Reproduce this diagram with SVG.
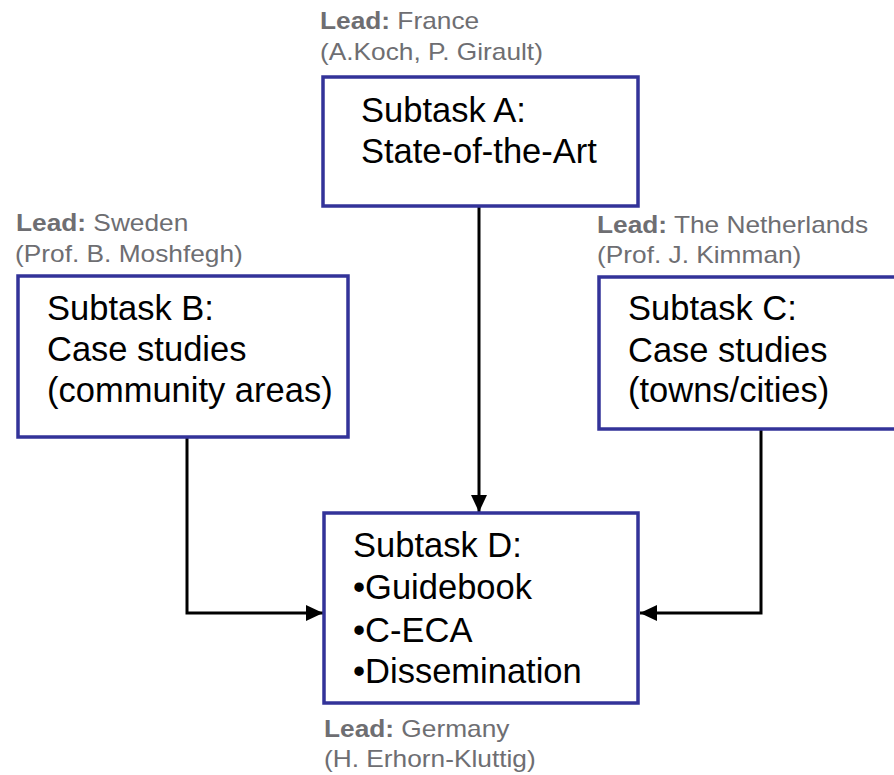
<svg xmlns="http://www.w3.org/2000/svg" width="894" height="775" viewBox="0 0 894 775">
  <style>
    .box { fill: #ffffff; stroke: #333399; stroke-width: 3.5; }
    .main { font-family: "Liberation Sans", Arial, sans-serif; font-size: 34.5px; fill: #000000; }
    .lead { font-family: "Liberation Sans", Arial, sans-serif; font-size: 24px; fill: #6e6e72; }
    .lead .b { font-weight: bold; }
    .conn { fill: none; stroke: #000000; stroke-width: 3; }
  </style>
  <defs>
    <marker id="arrow" markerUnits="userSpaceOnUse" markerWidth="18" markerHeight="18" viewBox="0 0 18 18" refX="17" refY="9" orient="auto">
      <path d="M0,1 L17,9 L0,17 Z" fill="#000000"/>
    </marker>
  </defs>
  <rect width="894" height="775" fill="#ffffff"/>

  <g id="connectors">
    <path class="conn" d="M479,207 L479,512" marker-end="url(#arrow)"/>
    <path class="conn" d="M187,437 L187,613 L323,613" marker-end="url(#arrow)"/>
    <path class="conn" d="M761,429 L761,613 L640,613" marker-end="url(#arrow)"/>
  </g>

  <g id="subtaskA">
    <rect class="box" x="323" y="77" width="315" height="129"/>
    <text class="main" x="361" y="122">Subtask A:</text>
    <text class="main" x="361" y="163">State-of-the-Art</text>
    <text class="lead" transform="translate(320,29) scale(1.095,1)"><tspan class="b">Lead:</tspan> France</text>
    <text class="lead" transform="translate(320,60) scale(1.095,1)">(A.Koch, P. Girault)</text>
  </g>

  <g id="subtaskB">
    <rect class="box" x="18" y="276" width="330" height="161"/>
    <text class="main" x="47" y="320">Subtask B:</text>
    <text class="main" x="47" y="361">Case studies</text>
    <text class="main" x="47" y="402">(community areas)</text>
    <text class="lead" transform="translate(16,231) scale(1.095,1)"><tspan class="b">Lead:</tspan> Sweden</text>
    <text class="lead" transform="translate(15,262) scale(1.095,1)">(Prof. B. Moshfegh)</text>
  </g>

  <g id="subtaskC">
    <rect class="box" x="599" y="277" width="305" height="152"/>
    <text class="main" x="628" y="320">Subtask C:</text>
    <text class="main" x="628" y="362">Case studies</text>
    <text class="main" x="628" y="402">(towns/cities)</text>
    <text class="lead" transform="translate(597,233) scale(1.095,1)"><tspan class="b">Lead:</tspan> The Netherlands</text>
    <text class="lead" transform="translate(597,263) scale(1.095,1)">(Prof. J. Kimman)</text>
  </g>

  <g id="subtaskD">
    <rect class="box" x="324" y="513" width="314" height="190"/>
    <text class="main" x="353" y="557">Subtask D:</text>
    <text class="main" x="353" y="599">•Guidebook</text>
    <text class="main" x="353" y="642">•C-ECA</text>
    <text class="main" x="353" y="683">•Dissemination</text>
    <text class="lead" transform="translate(324,737) scale(1.095,1)"><tspan class="b">Lead:</tspan> Germany</text>
    <text class="lead" transform="translate(324,767) scale(1.095,1)">(H. Erhorn-Kluttig)</text>
  </g>
</svg>
